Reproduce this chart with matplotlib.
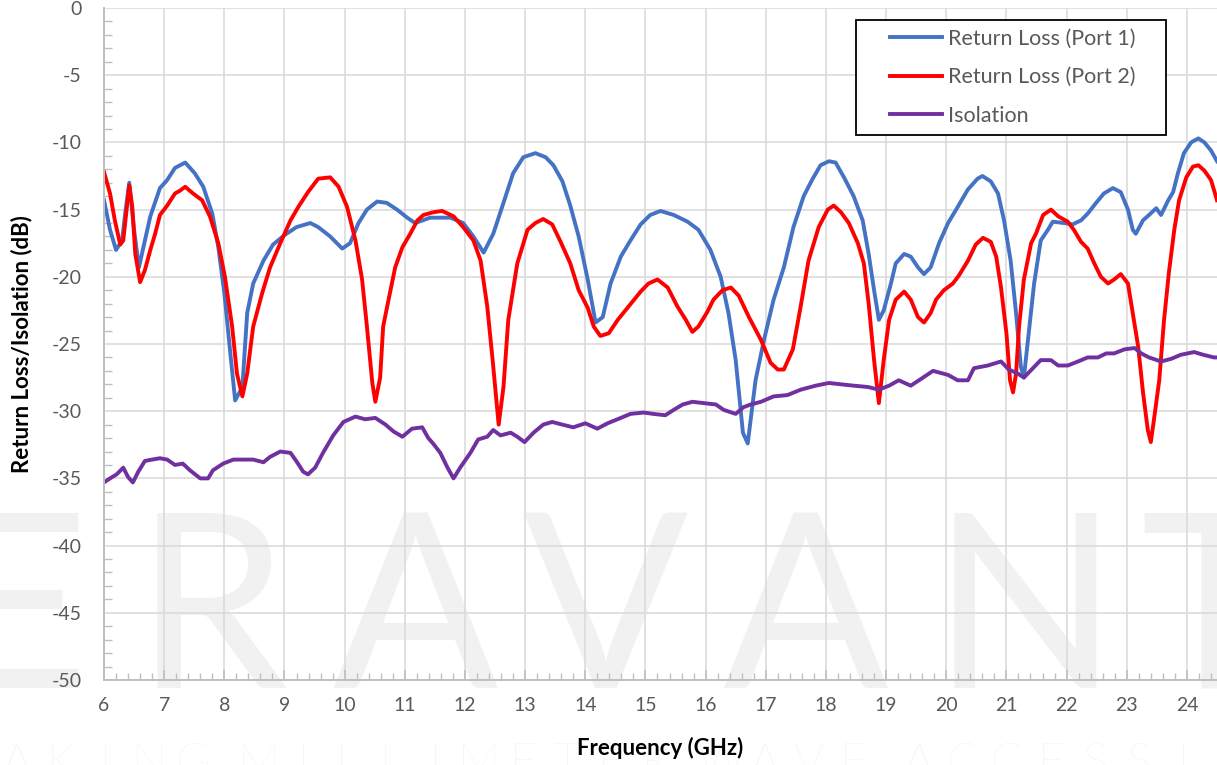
import matplotlib.pyplot as plt
from matplotlib.ticker import MultipleLocator
from matplotlib.patches import Rectangle

plt.rcParams['font.family'] = ['Lato', 'DejaVu Sans']
plt.rcParams['axes.unicode_minus'] = False

# Return Loss (Port 1)
p1_freq = [6.0, 6.1, 6.2, 6.3, 6.36, 6.42, 6.5, 6.58, 6.68, 6.77, 6.93, 7.05, 7.18, 7.35, 7.51, 7.65,
           7.8, 7.9, 8.0, 8.1, 8.18, 8.3, 8.38, 8.48, 8.65, 8.81, 9.0, 9.2, 9.43, 9.56, 9.76, 9.96,
           10.09, 10.23, 10.37, 10.54, 10.7, 10.87, 11.04, 11.17, 11.3, 11.42, 11.76, 11.97, 12.14,
           12.31, 12.47, 12.64, 12.8, 12.97, 13.17, 13.34, 13.47, 13.62, 13.75, 13.89, 14.04, 14.17,
           14.29, 14.42, 14.59, 14.75, 14.92, 15.08, 15.25, 15.47, 15.7, 15.88, 16.08, 16.25, 16.38,
           16.5, 16.62, 16.7, 16.83, 16.97, 17.13, 17.3, 17.46, 17.63, 17.78, 17.91, 18.05, 18.16,
           18.3, 18.46, 18.61, 18.71, 18.8, 18.88, 18.96, 19.08, 19.16, 19.3, 19.41, 19.53, 19.63,
           19.74, 19.88, 20.03, 20.19, 20.36, 20.52, 20.6, 20.74, 20.86, 20.96, 21.07, 21.16, 21.24,
           21.29, 21.37, 21.46, 21.57, 21.69, 21.77, 21.96, 22.1, 22.24, 22.35, 22.49, 22.62, 22.77,
           22.9, 23.02, 23.1, 23.15, 23.27, 23.37, 23.49, 23.57, 23.69, 23.77, 23.85, 23.95, 24.07,
           24.19, 24.29, 24.4, 24.5]
p1_db = [-14.3, -16.5, -18.0, -17.3, -15.0, -13.0, -16.5, -19.3, -17.3, -15.5, -13.4, -12.8, -11.9,
         -11.5, -12.3, -13.3, -15.3, -17.8, -21.2, -25.7, -29.2, -28.2, -22.7, -20.5, -18.8, -17.6,
         -16.9, -16.3, -16.0, -16.3, -17.0, -17.9, -17.5, -16.0, -15.0, -14.4, -14.5, -15.0, -15.6,
         -16.0, -15.8, -15.6, -15.6, -16.0, -17.0, -18.2, -16.8, -14.5, -12.3, -11.1, -10.8, -11.1,
         -11.7, -12.9, -14.7, -17.0, -20.2, -23.4, -23.0, -20.5, -18.5, -17.3, -16.1, -15.4, -15.1,
         -15.4, -15.9, -16.5, -18.0, -20.0, -22.7, -26.2, -31.6, -32.4, -27.7, -24.7, -21.7, -19.3,
         -16.3, -14.0, -12.7, -11.7, -11.4, -11.5, -12.6, -14.0, -15.8, -18.3, -21.0, -23.2, -22.5,
         -20.5, -19.0, -18.3, -18.5, -19.3, -19.8, -19.3, -17.5, -16.0, -14.8, -13.5, -12.7, -12.5,
         -12.9, -13.8, -15.8, -18.8, -22.7, -26.7, -27.5, -24.2, -20.5, -17.3, -16.5, -15.9, -16.0,
         -16.1, -15.8, -15.3, -14.5, -13.8, -13.4, -13.7, -15.0, -16.5, -16.8, -15.8, -15.4, -14.9,
         -15.4, -14.3, -13.7, -12.3, -10.8, -10.0, -9.7, -10.0, -10.6, -11.4]

# Return Loss (Port 2)
p2_freq = [6.0, 6.1, 6.18, 6.27, 6.32, 6.38, 6.42, 6.47, 6.52, 6.6, 6.68, 6.77, 6.85, 6.93, 7.05,
           7.18, 7.26, 7.35, 7.48, 7.63, 7.76, 7.9, 8.01, 8.13, 8.21, 8.3, 8.38, 8.48, 8.63, 8.76,
           8.93, 9.1, 9.23, 9.39, 9.56, 9.76, 9.9, 10.04, 10.18, 10.29, 10.37, 10.46, 10.51, 10.59,
           10.64, 10.73, 10.84, 10.96, 11.09, 11.21, 11.31, 11.47, 11.62, 11.81, 11.97, 12.14, 12.26,
           12.37, 12.46, 12.56, 12.64, 12.72, 12.87, 13.04, 13.17, 13.3, 13.45, 13.59, 13.75, 13.89,
           14.04, 14.14, 14.25, 14.39, 14.54, 14.72, 14.92, 15.05, 15.2, 15.37, 15.53, 15.67, 15.78,
           15.88, 16.03, 16.13, 16.28, 16.42, 16.55, 16.72, 16.92, 17.08, 17.2, 17.3, 17.45, 17.58,
           17.71, 17.88, 18.03, 18.13, 18.25, 18.38, 18.53, 18.63, 18.71, 18.8, 18.88, 18.96, 19.05,
           19.16, 19.3, 19.41, 19.53, 19.63, 19.74, 19.83, 19.96, 20.11, 20.21, 20.36, 20.49, 20.61,
           20.74, 20.83, 20.91, 21.0, 21.06, 21.11, 21.16, 21.21, 21.29, 21.41, 21.49, 21.61, 21.74,
           21.86, 22.02, 22.12, 22.24, 22.35, 22.46, 22.57, 22.69, 22.79, 22.9, 23.02, 23.1, 23.19,
           23.27, 23.35, 23.4, 23.45, 23.54, 23.62, 23.7, 23.79, 23.87, 23.99, 24.1, 24.19, 24.29,
           24.4, 24.5]
p2_db = [-12.2, -13.8, -15.8, -17.6, -17.3, -14.8, -13.2, -14.8, -18.3, -20.4, -19.5, -18.0, -16.8,
         -15.4, -14.7, -13.8, -13.6, -13.3, -13.8, -14.3, -15.5, -17.5, -20.0, -23.7, -27.2, -28.9,
         -27.2, -23.7, -21.2, -19.3, -17.5, -15.8, -14.8, -13.7, -12.7, -12.6, -13.3, -14.8, -17.3,
         -20.2, -23.7, -27.9, -29.3, -27.5, -23.7, -21.7, -19.3, -17.8, -16.8, -15.8, -15.4, -15.2,
         -15.1, -15.5, -16.3, -17.3, -18.8, -22.2, -26.2, -31.0, -28.2, -23.2, -19.0, -16.5, -16.0,
         -15.7, -16.1, -17.4, -19.0, -21.0, -22.3, -23.7, -24.4, -24.2, -23.2, -22.2, -21.1, -20.5,
         -20.2, -20.8, -22.2, -23.2, -24.1, -23.7, -22.6, -21.7, -21.0, -20.8, -21.4, -23.0, -24.7,
         -26.4, -26.9, -26.9, -25.4, -22.2, -18.8, -16.3, -15.0, -14.7, -15.2, -16.0, -17.5, -19.0,
         -22.0, -26.2, -29.4, -26.2, -23.2, -21.7, -21.1, -21.7, -23.0, -23.4, -22.7, -21.7, -21.0,
         -20.5, -19.9, -18.8, -17.6, -17.1, -17.4, -18.5, -20.8, -24.2, -27.7, -28.6, -27.2, -23.7,
         -20.2, -17.5, -16.8, -15.4, -15.0, -15.5, -15.9, -16.5, -17.4, -17.9, -19.0, -20.0, -20.5,
         -20.2, -19.8, -20.5, -22.7, -25.2, -28.6, -31.4, -32.3, -30.7, -27.7, -23.2, -19.7, -16.5,
         -14.3, -12.6, -11.8, -11.7, -12.1, -12.8, -14.3]

# Isolation
iso_freq = [6.0, 6.1, 6.21, 6.32, 6.4, 6.48, 6.57, 6.68, 6.8, 6.93, 7.05, 7.18, 7.31, 7.43, 7.6, 7.73,
            7.81, 7.98, 8.15, 8.31, 8.48, 8.65, 8.76, 8.93, 9.1, 9.21, 9.31, 9.39, 9.51, 9.64, 9.81,
            9.98, 10.18, 10.34, 10.51, 10.68, 10.81, 10.96, 11.12, 11.29, 11.39, 11.47, 11.59, 11.71,
            11.81, 11.92, 12.09, 12.22, 12.37, 12.47, 12.59, 12.76, 12.87, 12.99, 13.14, 13.3, 13.45,
            13.62, 13.8, 14.0, 14.2, 14.37, 14.59, 14.75, 14.97, 15.13, 15.33, 15.47, 15.62, 15.78,
            15.97, 16.17, 16.3, 16.5, 16.63, 16.75, 16.92, 17.13, 17.36, 17.58, 17.83, 18.05, 18.25,
            18.46, 18.7, 18.88, 19.05, 19.21, 19.41, 19.58, 19.78, 20.03, 20.19, 20.36, 20.46, 20.69,
            20.91, 21.04, 21.19, 21.29, 21.44, 21.57, 21.74, 21.86, 22.02, 22.19, 22.35, 22.52, 22.66,
            22.79, 22.96, 23.13, 23.24, 23.37, 23.57, 23.74, 23.9, 24.12, 24.27, 24.45, 24.5]
iso_db = [-35.3, -35.0, -34.7, -34.2, -34.9, -35.3, -34.5, -33.7, -33.6, -33.5, -33.6, -34.0, -33.9,
          -34.4, -35.0, -35.0, -34.4, -33.9, -33.6, -33.6, -33.6, -33.8, -33.4, -33.0, -33.1, -33.8,
          -34.5, -34.7, -34.2, -33.1, -31.8, -30.8, -30.4, -30.6, -30.5, -31.0, -31.5, -31.9, -31.3,
          -31.2, -32.0, -32.4, -33.1, -34.2, -35.0, -34.2, -33.1, -32.1, -31.9, -31.4, -31.8, -31.6,
          -31.9, -32.3, -31.6, -31.0, -30.8, -31.0, -31.2, -30.9, -31.3, -30.9, -30.5, -30.2, -30.1,
          -30.2, -30.3, -29.9, -29.5, -29.3, -29.4, -29.5, -29.9, -30.2, -29.7, -29.5, -29.3, -28.9,
          -28.8, -28.4, -28.1, -27.9, -28.0, -28.1, -28.2, -28.4, -28.1, -27.7, -28.1, -27.6, -27.0,
          -27.3, -27.7, -27.7, -26.8, -26.6, -26.3, -26.9, -27.2, -27.5, -26.8, -26.2, -26.2, -26.6,
          -26.6, -26.3, -26.0, -26.0, -25.7, -25.7, -25.4, -25.3, -25.7, -26.0, -26.3, -26.1, -25.8,
          -25.6, -25.8, -26.0, -26.0]

W, H = 1217, 765
fig = plt.figure(figsize=(W / 100, H / 100), dpi=100)
ax = fig.add_axes([104 / W, 1 - 680 / H, 1 - 104 / W, (680 - 8) / H])
ax.set_facecolor('none')

# faint watermark behind the chart
for ch, xc in zip("ERAVANT", [18, 211, 415, 605, 805, 1025, 1212]):
    fig.text(xc / W, 1 - 688 / H, ch, fontsize=176, color='#f1f1f1', ha='center',
             va='baseline', fontweight='normal', zorder=-10)
tag = "MAKING MILLIMETER WAVE ACCESSIBLE"
xpos = -27
for ch in tag:
    if ch != ' ':
        fig.text(xpos / W, 1 - 777 / H, ch, fontsize=34, color='#f1f1f1', ha='center',
                 va='baseline', fontweight='light', zorder=-10)
        xpos += 44
    else:
        xpos += 22

ax.plot(p1_freq, p1_db, color='#4472C4', lw=2.8, label='Return Loss (Port 1)')
ax.plot(p2_freq, p2_db, color='#FF0000', lw=2.8, label='Return Loss (Port 2)')
ax.plot(iso_freq, iso_db, color='#7030A0', lw=2.8, label='Isolation')

ax.set_xlim(6, 24.5)
ax.set_ylim(-50, 0)
ax.xaxis.set_major_locator(MultipleLocator(1))
ax.xaxis.set_minor_locator(MultipleLocator(0.2))
ax.yaxis.set_major_locator(MultipleLocator(5))
ax.yaxis.set_minor_locator(MultipleLocator(1))
ax.grid(which='major', color='#d9d9d9', lw=1.1)
ax.set_axisbelow(True)

for s in ['top', 'right']:
    ax.spines[s].set_visible(False)
for s in ['left', 'bottom']:
    ax.spines[s].set_color('#bfbfbf')
    ax.spines[s].set_linewidth(1.4)

ax.tick_params(which='both', direction='in', color='#bfbfbf', labelcolor='#595959', labelsize=14)
ax.tick_params(axis='x', which='major', length=7, width=1.2, pad=12)
ax.tick_params(axis='x', which='minor', length=5, width=1.0)
ax.tick_params(axis='y', which='major', length=0, pad=16)
ax.tick_params(axis='y', which='minor', length=6, width=1.0)

ax.set_xlabel('Frequency (GHz)', fontsize=16, fontweight='bold', color='black', labelpad=17)
ax.set_ylabel('Return Loss/Isolation (dB)', fontsize=16, fontweight='bold', color='black', labelpad=14)

# legend with a plain black box
ax.add_patch(Rectangle((856 / W, 1 - 135 / H), 310 / W, 115 / H, transform=fig.transFigure,
                       facecolor='white', edgecolor='black', lw=1.3, zorder=4, clip_on=False))
leg = ax.legend(loc='upper left', bbox_to_anchor=(890 / W, 1 - 29 / H), bbox_transform=fig.transFigure,
                frameon=False, fontsize=15.5, labelcolor='#595959', handlelength=2.4,
                handletextpad=0.28, labelspacing=0.85, borderpad=0, borderaxespad=0)
leg.set_zorder(5)

fig.savefig('out.png', dpi=100)
